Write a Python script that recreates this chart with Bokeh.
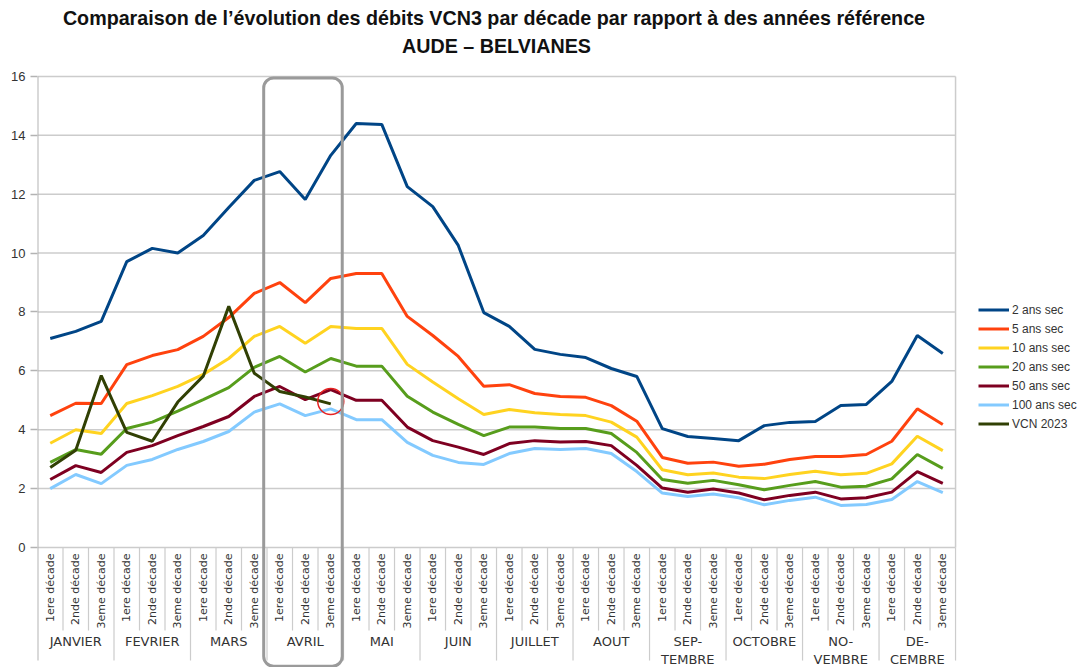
from bokeh.plotting import figure
from bokeh.models import Range1d, FixedTicker, Legend, LegendItem, BoxAnnotation, ColumnDataSource
from bokeh.core.properties import value
from bokeh.embed import file_html
from bokeh.resources import INLINE

title_lines = ["Comparaison de l’évolution des débits VCN3 par décade par rapport à des années référence",
               "AUDE – BELVIANES"]
months = ["JANVIER", "FEVRIER", "MARS", "AVRIL", "MAI", "JUIN", "JUILLET", "AOUT",
          "SEP-\nTEMBRE", "OCTOBRE", "NO-\nVEMBRE", "DE-\nCEMBRE"]
decades = ["1ere décade", "2nde décade", "3eme décade"]
y_ticks = [0, 2, 4, 6, 8, 10, 12, 14, 16]

ans2 = [7.10, 7.34, 7.68, 9.71, 10.16, 10.00, 10.60, 11.55, 12.47, 12.77, 11.82, 13.32,
        14.40, 14.37, 12.26, 11.58, 10.26, 7.98, 7.51, 6.73, 6.56, 6.45, 6.08, 5.81,
        4.04, 3.77, 3.70, 3.63, 4.14, 4.25, 4.28, 4.82, 4.86, 5.64, 7.20, 6.59]
ans5 = [4.48, 4.90, 4.89, 6.21, 6.52, 6.72, 7.17, 7.81, 8.63, 9.00, 8.32, 9.14,
        9.31, 9.31, 7.85, 7.20, 6.49, 5.48, 5.53, 5.23, 5.13, 5.10, 4.82, 4.29,
        3.06, 2.86, 2.90, 2.76, 2.83, 2.99, 3.09, 3.09, 3.16, 3.61, 4.71, 4.18]
ans10 = [3.54, 4.00, 3.87, 4.89, 5.16, 5.47, 5.88, 6.42, 7.17, 7.51, 6.94, 7.51,
         7.44, 7.44, 6.22, 5.62, 5.05, 4.52, 4.69, 4.58, 4.52, 4.48, 4.26, 3.75,
         2.64, 2.47, 2.53, 2.39, 2.34, 2.48, 2.59, 2.47, 2.52, 2.84, 3.78, 3.29]
ans20 = [2.89, 3.33, 3.17, 4.04, 4.26, 4.63, 5.02, 5.43, 6.12, 6.49, 5.96, 6.42,
         6.16, 6.16, 5.14, 4.60, 4.18, 3.80, 4.09, 4.09, 4.04, 4.04, 3.87, 3.23,
         2.31, 2.18, 2.28, 2.13, 1.96, 2.11, 2.24, 2.05, 2.08, 2.33, 3.16, 2.69]
ans50 = [2.31, 2.78, 2.55, 3.23, 3.46, 3.80, 4.11, 4.45, 5.13, 5.47, 5.02, 5.36,
         5.00, 5.00, 4.09, 3.63, 3.41, 3.16, 3.53, 3.63, 3.58, 3.60, 3.46, 2.79,
         2.02, 1.88, 1.99, 1.85, 1.62, 1.77, 1.88, 1.65, 1.69, 1.88, 2.58, 2.18]
ans100 = [2.00, 2.48, 2.17, 2.79, 2.99, 3.33, 3.60, 3.94, 4.60, 4.88, 4.48, 4.71,
          4.34, 4.34, 3.57, 3.13, 2.89, 2.82, 3.19, 3.36, 3.33, 3.36, 3.19, 2.58,
          1.85, 1.73, 1.82, 1.69, 1.45, 1.60, 1.71, 1.43, 1.46, 1.63, 2.24, 1.86]
vcn2023 = [2.72, 3.30, 5.84, 3.91, 3.61, 4.94, 5.82, 8.19, 5.92, 5.30, 5.11, 4.88]

series = [
    ("2 ans sec", ans2, "#004586"),
    ("5 ans sec", ans5, "#ff420e"),
    ("10 ans sec", ans10, "#ffd320"),
    ("20 ans sec", ans20, "#579d1c"),
    ("50 ans sec", ans50, "#7e0021"),
    ("100 ans sec", ans100, "#83caff"),
    ("VCN 2023", vcn2023, "#314004"),
]

n_cat = len(months) * len(decades)
cat_x = list(range(n_cat))
X_MAX = 40.40
Y_MIN, Y_MAX = -4.076, 18.58
SUB_SEP = -2.82
MONTH_SEP = -3.84
GRID = "#cccccc"

p = figure(width=1080, height=667, output_backend="svg", toolbar_location=None,
           x_range=Range1d(-0.5, X_MAX), y_range=Range1d(Y_MIN, Y_MAX),
           x_axis_location=None, min_border_left=37, min_border_right=0,
           min_border_top=0, min_border_bottom=0)
p.outline_line_color = None
p.xgrid.visible = False
p.ygrid.visible = False
p.yaxis.ticker = FixedTicker(ticks=y_ticks)
p.yaxis.axis_line_color = None
p.yaxis.major_tick_line_color = "#b3b3b3"
p.yaxis.major_tick_line_width = 1.5
p.yaxis.major_tick_out = 7
p.yaxis.major_tick_in = 0
p.yaxis.minor_tick_line_color = None
p.yaxis.major_label_standoff = 5
p.yaxis.major_label_text_font = "Liberation Sans"
p.yaxis.major_label_text_font_size = "13px"
p.yaxis.major_label_text_color = "#333333"

# horizontal grid lines over the plot area only
p.segment(x0=[-0.5] * len(y_ticks), y0=y_ticks, x1=[n_cat - 0.5] * len(y_ticks), y1=y_ticks,
          line_color=GRID, line_width=1.5)
# axis line (runs down through category labels) and right border
p.segment(x0=[-0.5], y0=[MONTH_SEP], x1=[-0.5], y1=[y_ticks[-1]], line_color="#b3b3b3", line_width=2)
p.segment(x0=[n_cat - 0.5], y0=[0], x1=[n_cat - 0.5], y1=[y_ticks[-1]], line_color=GRID, line_width=1.5)

# category separators
sep_x = [i - 0.5 for i in range(1, n_cat + 1)]
sep_y1 = [MONTH_SEP if i % len(decades) == 0 else SUB_SEP for i in range(1, n_cat + 1)]
p.segment(x0=sep_x, y0=[0] * len(sep_x), x1=sep_x, y1=sep_y1, line_color=GRID, line_width=1.2)

# decade labels
dec_src = ColumnDataSource(dict(x=cat_x, y=[-0.2] * n_cat,
                                t=[decades[i % 3] for i in range(n_cat)]))
p.text(x="x", y="y", text="t", source=dec_src, angle=1.5708, text_align="right",
       text_baseline="middle", text_font=value("DejaVu Sans"), text_font_size="11px",
       text_color="#333333")

# month labels
mon_src = ColumnDataSource(dict(x=[3 * k + 1 for k in range(len(months))],
                                y=[-2.93] * len(months), t=months))
p.text(x="x", y="y", text="t", source=mon_src, text_align="center", text_baseline="top",
       text_font=value("DejaVu Sans"), text_font_size="13px", text_color="#333333",
       text_line_height=1.2)

# title (two lines, centred over the plot area)
mid = (n_cat - 1) / 2
p.text(x=[mid - 0.1, mid], y=[18.0, 17.05], text=title_lines, text_align="center",
       text_baseline="middle", text_font=value("Liberation Sans"), text_font_size="19.7px",
       text_font_style="bold", text_color="#111111")

items = []
for name, vals, col in series:
    r = p.line(cat_x[:len(vals)], vals, line_color=col, line_width=3)
    items.append(LegendItem(label=name, renderers=[r]))

# red circle around last VCN point
p.scatter([cat_x[len(vcn2023) - 1]], [vcn2023[-1] + 0.08], marker="circle", size=26,
          fill_color=None, line_color="#e52222", line_width=1.5)

# highlight box around AVRIL
avril = months.index("AVRIL")
p.add_layout(BoxAnnotation(left=3 * avril - 0.63, right=3 * avril + 2.45, top=15.95, bottom=Y_MIN + 0.04,
                           fill_alpha=0, line_color="#9a9a9a", line_alpha=1, line_width=3,
                           border_radius=10, level="overlay"))

legend = Legend(items=items, location=(941, 234), orientation="vertical", padding=0, margin=0,
                spacing=0, glyph_width=31, glyph_height=19, label_height=19, label_standoff=3,
                border_line_alpha=0, background_fill_alpha=0, label_text_font="Liberation Sans",
                label_text_font_size="12px", label_text_color="#333333")
p.add_layout(legend, "center")

open("out.html", "w").write(file_html(p, INLINE))
